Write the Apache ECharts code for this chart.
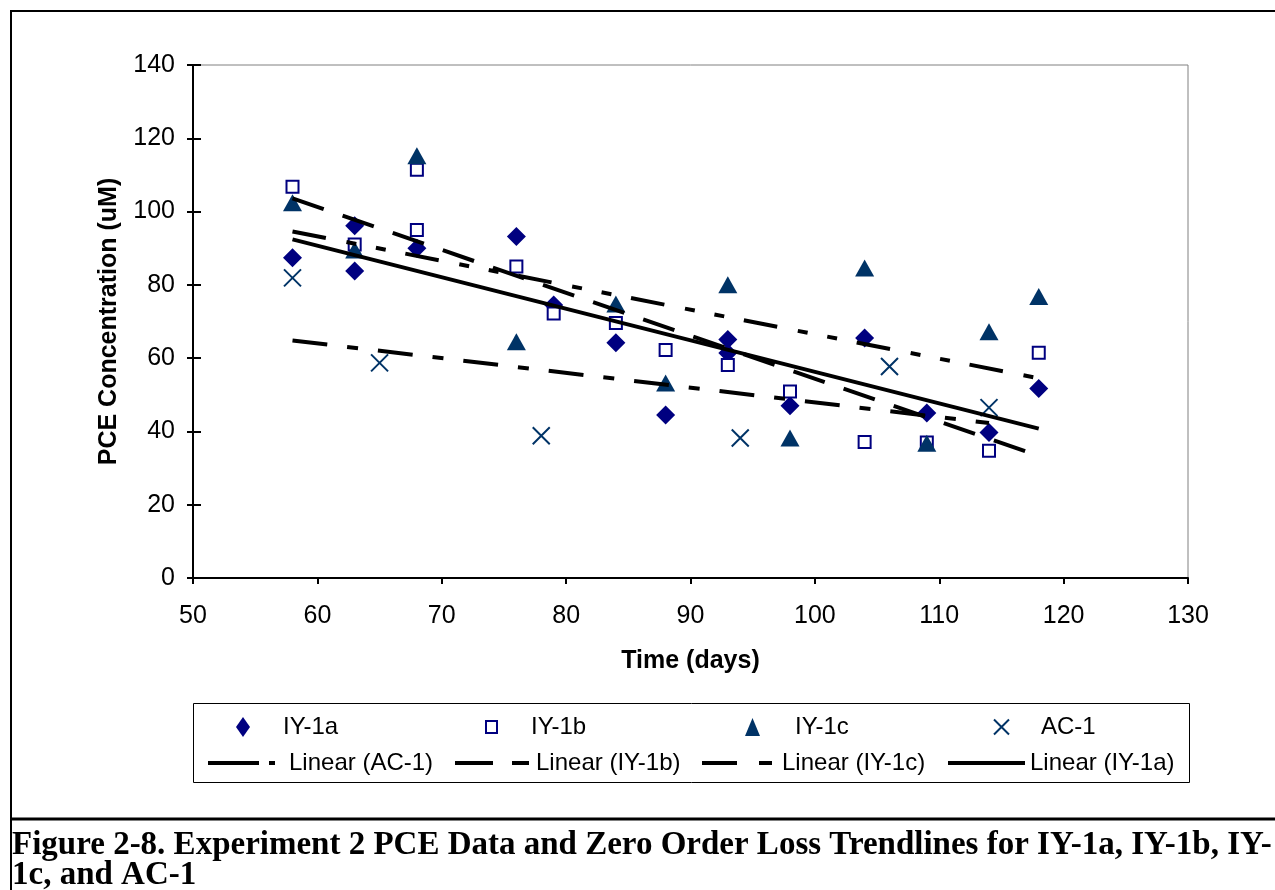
<!DOCTYPE html>
<html>
<head>
<meta charset="utf-8">
<title>Experiment 2 PCE Data</title>
<script src="https://cdn.jsdelivr.net/npm/echarts@6/dist/echarts.min.js"></script>
<style>
  html, body { margin: 0; padding: 0; background: #fff; }
  #chart { width: 1275px; height: 890px; }
</style>
</head>
<body>
<div id="chart"></div>
<script>
// PCE concentration (uM) vs time (days)
const daysIY1a = [58, 63, 63, 68, 76, 79, 84, 88, 93, 93, 98, 104, 109, 114, 118]
const pceIY1a = [87.4, 96.1, 83.8, 90.0, 93.2, 74.5, 64.2, 44.5, 65.1, 61.4, 47.0, 65.5, 45.0, 39.7, 51.7]

const daysIY1b = [58, 63, 68, 68, 76, 79, 84, 88, 93, 98, 104, 109, 114, 118]
const pceIY1b = [106.8, 91.0, 111.4, 95.0, 85.0, 72.2, 69.6, 62.2, 58.1, 50.9, 37.1, 37.0, 34.7, 61.5]

const daysIY1c = [58, 63, 68, 76, 84, 88, 93, 98, 104, 109, 114, 118]
const pceIY1c = [102.4, 89.5, 115.2, 64.5, 74.8, 53.2, 80.0, 38.2, 84.6, 36.8, 67.2, 76.8]

const daysAC1 = [58, 65, 78, 94, 106, 114]
const pceAC1 = [81.9, 58.7, 38.8, 38.2, 57.7, 46.5]

// axis ranges / ticks
const xRange = [50, 130, 10]
const yRange = [0, 140, 20]

const caption = 'Figure 2-8. Experiment 2 PCE Data and Zero Order Loss Trendlines for IY-1a, IY-1b, IY-\n1c, and AC-1'

function pairs(xs, ys) {
  return xs.map((x, i) => [x, ys[i]])
}

// least squares line over the span of the data (same as the excel trendline)
function linearFit(xs, ys) {
  const n = xs.length
  let mx = 0, my = 0
  for (let i = 0; i < n; i++) { mx += xs[i]; my += ys[i] }
  mx /= n; my /= n
  let sxy = 0, sxx = 0
  for (let i = 0; i < n; i++) {
    sxy += (xs[i] - mx) * (ys[i] - my)
    sxx += (xs[i] - mx) * (xs[i] - mx)
  }
  const slope = sxy / sxx
  const x0 = Math.min(...xs), x1 = Math.max(...xs)
  return [[x0, my + slope * (x0 - mx)], [x1, my + slope * (x1 - mx)]]
}

const FONT = 'Liberation Sans'
const NAVY = '#000080'
const DARK = '#003366'

const dashAC1 = [35, 20, 11, 20]
const dashIY1b = [33, 20]
const dashIY1c = [34, 21, 10, 20, 10, 20]

// one legend per entry so each can sit where it does in the original
const legendItems = [
  { name: 'IY-1a', left: 236, top: 715, w: 14, h: 20, pad: 28 },
  { name: 'IY-1b', left: 485, top: 715, w: 11, h: 12, pad: 29 },
  { name: 'IY-1c', left: 745, top: 715, w: 15, h: 18, pad: 30 },
  { name: 'AC-1', left: 993, top: 715, w: 15, h: 16, pad: 27 },
  { name: 'Linear (AC-1)', left: 206, top: 751, w: 67, h: 14, pad: 9, dash: [51, 10, 6, 60] },
  { name: 'Linear (IY-1b)', left: 453, top: 751, w: 74, h: 14, pad: 2, dash: [38, 19, 17, 60] },
  { name: 'Linear (IY-1c)', left: 700, top: 751, w: 70, h: 14, pad: 5, dash: [35, 22, 13, 60] },
  { name: 'Linear (IY-1a)', left: 946, top: 751, w: 77, h: 14, pad: 0, dash: 'solid' }
]

const legends = legendItems.map(it => {
  const lg = {
    data: [it.name],
    left: it.left,
    top: it.top,
    padding: 0,
    itemWidth: it.w,
    itemHeight: it.h,
    selectedMode: false,
    textStyle: { fontFamily: FONT, fontSize: 24, color: '#000', padding: [0, 0, 0, it.pad], lineHeight: it.h }
  }
  if (it.dash) {
    // trendline entries: line only, hide the marker echarts puts in the middle
    lg.lineStyle = { type: it.dash, width: 4, color: '#000' }
    lg.itemStyle = { opacity: 0 }
  }
  return lg
})

const chart = echarts.init(document.getElementById('chart'))

chart.setOption({
  animation: false,
  backgroundColor: '#fff',
  textStyle: { fontFamily: FONT },
  legend: legends,
  grid: {
    left: 193,
    top: 65,
    width: 995,
    height: 513,
    show: true,
    borderColor: '#808080',
    borderWidth: 1,
    backgroundColor: '#fff'
  },
  xAxis: {
    type: 'value',
    min: xRange[0],
    max: xRange[1],
    interval: xRange[2],
    name: 'Time (days)',
    nameLocation: 'middle',
    nameGap: 71,
    nameTextStyle: { fontFamily: FONT, fontSize: 25, fontWeight: 'bold', color: '#000' },
    axisLine: { lineStyle: { color: '#000', width: 2 } },
    axisTick: { length: 6, lineStyle: { color: '#000', width: 2 } },
    axisLabel: { fontFamily: FONT, fontSize: 25, color: '#000', margin: 26 },
    splitLine: { show: false }
  },
  yAxis: [{
    type: 'value',
    min: yRange[0],
    max: yRange[1],
    interval: yRange[2],
    name: 'PCE Concentration (uM)',
    nameLocation: 'middle',
    nameGap: 71,
    nameTextStyle: { fontFamily: FONT, fontSize: 25, fontWeight: 'bold', color: '#000' },
    axisLine: { lineStyle: { color: '#000', width: 2 } },
    axisTick: { length: 6, lineStyle: { color: '#000', width: 2 } },
    axisLabel: { fontFamily: FONT, fontSize: 25, color: '#000', margin: 18 },
    splitLine: { show: false }
  }, {
    // inner half of the cross ticks
    type: 'value',
    position: 'left',
    min: yRange[0],
    max: yRange[1],
    interval: yRange[2],
    axisLine: { show: false },
    axisTick: { inside: true, length: 8, lineStyle: { color: '#000', width: 2 } },
    axisLabel: { show: false },
    splitLine: { show: false }
  }],
  series: [
    {
      name: 'IY-1a',
      type: 'scatter',
      symbol: 'diamond',
      symbolSize: 19,
      itemStyle: { color: NAVY, opacity: 1 },
      data: pairs(daysIY1a, pceIY1a)
    },
    {
      name: 'IY-1b',
      type: 'scatter',
      symbol: 'rect',
      symbolSize: 12,
      itemStyle: { color: '#fff', borderColor: NAVY, borderWidth: 2, opacity: 1 },
      data: pairs(daysIY1b, pceIY1b)
    },
    {
      name: 'IY-1c',
      type: 'scatter',
      symbol: 'triangle',
      symbolSize: [19, 17],
      itemStyle: { color: DARK, opacity: 1 },
      data: pairs(daysIY1c, pceIY1c)
    },
    {
      name: 'AC-1',
      type: 'scatter',
      symbol: 'path://M0,0L10,10M10,0L0,10',
      symbolSize: 17,
      itemStyle: { color: 'rgba(0,0,0,0)', borderColor: DARK, borderWidth: 2, opacity: 1 },
      data: pairs(daysAC1, pceAC1)
    },
    {
      name: 'Linear (AC-1)',
      type: 'line',
      symbol: 'none',
      silent: true,
      z: 5,
      lineStyle: { color: '#000', width: 4, type: dashAC1 },
      data: linearFit(daysAC1, pceAC1)
    },
    {
      name: 'Linear (IY-1b)',
      type: 'line',
      symbol: 'none',
      silent: true,
      z: 5,
      lineStyle: { color: '#000', width: 4, type: dashIY1b },
      data: linearFit(daysIY1b, pceIY1b)
    },
    {
      name: 'Linear (IY-1c)',
      type: 'line',
      symbol: 'none',
      silent: true,
      z: 5,
      lineStyle: { color: '#000', width: 4, type: dashIY1c },
      data: linearFit(daysIY1c, pceIY1c)
    },
    {
      name: 'Linear (IY-1a)',
      type: 'line',
      symbol: 'none',
      silent: true,
      z: 5,
      lineStyle: { color: '#000', width: 4 },
      data: linearFit(daysIY1a, pceIY1a)
    }
  ],
  graphic: [
    // page frame and caption cell
    { type: 'line', shape: { x1: 10, y1: 11, x2: 1275, y2: 11 }, style: { stroke: '#000', lineWidth: 2 } },
    { type: 'line', shape: { x1: 11, y1: 10, x2: 11, y2: 890 }, style: { stroke: '#000', lineWidth: 2 } },
    { type: 'line', shape: { x1: 10, y1: 819, x2: 1275, y2: 819 }, style: { stroke: '#000', lineWidth: 3 } },
    // legend box
    { type: 'rect', z: -1, shape: { x: 193.5, y: 703.5, width: 996, height: 79 }, style: { fill: null, stroke: '#000', lineWidth: 1 } },
    {
      type: 'text',
      left: 12,
      top: 829,
      style: {
        text: caption,
        font: 'bold 33px "Liberation Serif"',
        lineHeight: 30,
        fill: '#000'
      }
    }
  ]
})
</script>
</body>
</html>
